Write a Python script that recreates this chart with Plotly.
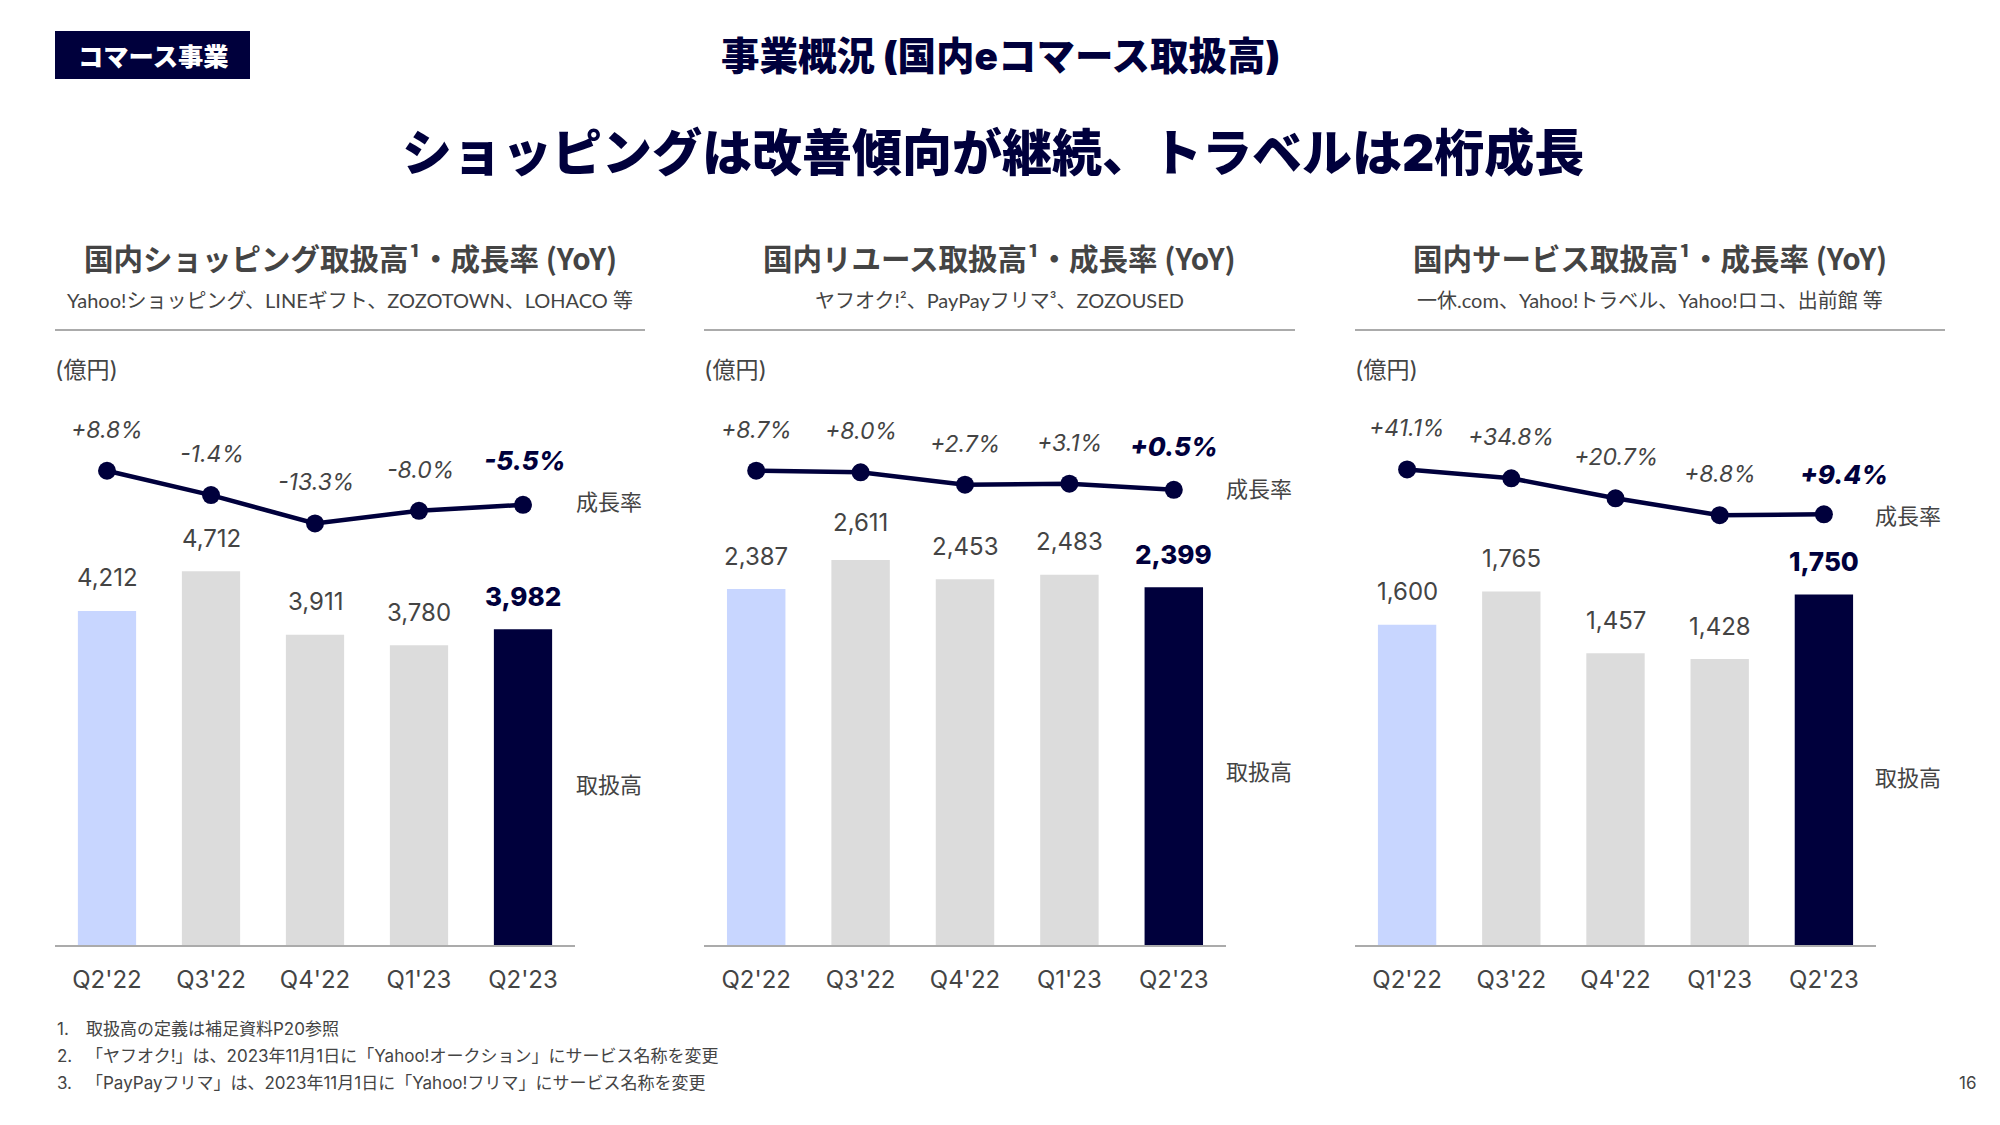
import plotly.graph_objects as go

# ---- data ----
quarters = ["Q2'22", "Q3'22", "Q4'22", "Q1'23", "Q2'23"]
shopping_gmv = [4212, 4712, 3911, 3780, 3982]
shopping_yoy = [8.8, -1.4, -13.3, -8.0, -5.5]
reuse_gmv = [2387, 2611, 2453, 2483, 2399]
reuse_yoy = [8.7, 8.0, 2.7, 3.1, 0.5]
service_gmv = [1600, 1765, 1457, 1428, 1750]
service_yoy = [41.1, 34.8, 20.7, 8.8, 9.4]

panel_titles = ["国内ショッピング取扱高¹・成長率 (YoY)",
                "国内リユース取扱高¹・成長率 (YoY)",
                "国内サービス取扱高¹・成長率 (YoY)"]
panel_subtitles = ["Yahoo!ショッピング、LINEギフト、ZOZOTOWN、LOHACO 等",
                   "ヤフオク!²、PayPayフリマ³、ZOZOUSED",
                   "一休.com、Yahoo!トラベル、Yahoo!ロコ、出前館 等"]
footnote_nums = ["1.", "2.", "3."]
footnotes = ["取扱高の定義は補足資料P20参照",
             "「ヤフオク!」は、2023年11月1日に「Yahoo!オークション」にサービス名称を変更",
             "「PayPayフリマ」は、2023年11月1日に「Yahoo!フリマ」にサービス名称を変更"]

# ---- styles / layout ----
W, H = 2000, 1125
NAVY = "#00003C"
TXT = "#444444"
BAR_COLORS = ["#C8D6FF", "#DCDCDC", "#DCDCDC", "#DCDCDC", NAVY]
FONT = "Inter, 'Noto Sans CJK JP', sans-serif"
SUB = "Lato, 'Noto Sans CJK JP', sans-serif"
JP = "'Noto Sans CJK JP', Inter, sans-serif"
BASE_Y, TOP_Y, LINE_BOTTOM_Y = 945, 420, 560


def px(x):
    return x / W


def py(y):
    return 1 - y / H


panels = [
    dict(gmv=shopping_gmv, yoy=shopping_yoy, left=55, right=575, rule_r=645, bar_max=6620,
         yoy_range=[-28.6, 30.06], side_x=608.5, side_y=(500, 783), yoy_dx=[0, 1, 1, 1, 1], last_dy=44),
    dict(gmv=reuse_gmv, yoy=reuse_yoy, left=704, right=1226, rule_r=1295, bar_max=3521,
         yoy_range=[-29.6, 30.4], side_x=1259, side_y=(487, 770), yoy_dx=[0, 0, 0, 0, 0], last_dy=43),
    dict(gmv=service_gmv, yoy=service_yoy, left=1355, right=1876, rule_r=1945, bar_max=2622,
         yoy_range=[-22.9, 76.0], side_x=1908, side_y=(514, 775.5), yoy_dx=[0, 0, 0, 0, 20], last_dy=39.5),
]

fig = go.Figure()
ann = []
shapes = []


def text(x, y, s, size, color=TXT, weight=400, anchor="center", family=JP):
    ann.append(dict(xref="paper", yref="paper", x=px(x), y=py(y), text=s, showarrow=False,
                    xanchor=anchor, yanchor="middle",
                    font=dict(size=size, color=color, family=family, weight=weight)))


for i, p in enumerate(panels):
    n = i * 2
    xa = f"x{i + 1}" if i else "x"
    ya = f"y{n + 1}" if n else "y"
    ya2 = f"y{n + 2}"
    fig.add_trace(go.Bar(x=quarters, y=p["gmv"], xaxis=xa, yaxis=ya, width=0.56,
                         marker=dict(color=BAR_COLORS, line=dict(width=0)),
                         hoverinfo="skip", showlegend=False))
    fig.add_trace(go.Scatter(x=quarters, y=p["yoy"], xaxis=xa, yaxis=ya2, mode="lines+markers",
                             line=dict(color=NAVY, width=4.5),
                             marker=dict(color=NAVY, size=18),
                             cliponaxis=False, hoverinfo="skip", showlegend=False))
    xkey = f"xaxis{i + 1}" if i else "xaxis"
    ykey = f"yaxis{n + 1}" if n else "yaxis"
    ykey2 = f"yaxis{n + 2}"
    fig.update_layout({
        xkey: dict(domain=[px(p["left"]), px(p["right"])], anchor=ya, type="category",
                   range=[-0.5, 4.5], showline=True, linecolor="#ABABAB", linewidth=2,
                   ticks="", showgrid=False, zeroline=False, ticklabelstandoff=12,
                   tickfont=dict(size=24, color=TXT, family=FONT), fixedrange=True),
        ykey: dict(domain=[py(BASE_Y), py(TOP_Y)], range=[0, p["bar_max"]], visible=False,
                   anchor=xa, fixedrange=True),
        ykey2: dict(domain=[py(LINE_BOTTOM_Y), py(TOP_Y)], range=p["yoy_range"], visible=False,
                    anchor=xa, fixedrange=True),
    })
    for j, q in enumerate(quarters):
        last = j == len(quarters) - 1
        ann.append(dict(xref=xa, yref=ya, x=q, y=p["gmv"][j], text=f"{p['gmv'][j]:,}",
                        showarrow=False, xanchor="center", yanchor="middle", yshift=33,
                        font=dict(size=26 if last else 24, color=NAVY if last else TXT, family=FONT,
                                  weight=800 if last else 400)))
        ann.append(dict(xref=xa, yref=ya2, x=q, y=p["yoy"][j], text=f"{p['yoy'][j]:+.1f}%",
                        showarrow=False, xanchor="center", yanchor="middle",
                        yshift=p["last_dy"] if last else 41, xshift=p["yoy_dx"][j],
                        font=dict(size=26 if last else 23, color=NAVY if last else TXT, family=FONT,
                                  style="italic", weight=800 if last else 400)))
    cx = (p["left"] + p["rule_r"]) / 2
    text(cx, 257, panel_titles[i], 29.5, TXT, 700, family=JP)
    text(cx, 299.5, panel_subtitles[i], 20, TXT, family=SUB)
    shapes.append(dict(type="line", xref="paper", yref="paper", x0=px(p["left"]), x1=px(p["rule_r"]),
                       y0=py(330), y1=py(330), line=dict(color="#ABABAB", width=2)))
    text(p["left"] - 2, 370, "(億円)", 23, TXT, anchor="left", family=FONT)
    text(p["side_x"], p["side_y"][0], "成長率", 22)
    text(p["side_x"], p["side_y"][1], "取扱高", 22)

shapes.append(dict(type="rect", xref="paper", yref="paper", x0=px(55), x1=px(250), y0=py(79), y1=py(31),
                   fillcolor=NAVY, line=dict(width=0), layer="below"))
text(153, 55, "コマース事業", 25.3, "#FFFFFF", 900)
text(1000, 56, "事業概況 (国内eコマース取扱高)", 38.5, NAVY, 900, family=FONT)
text(993, 153, "ショッピングは改善傾向が継続、トラベルは2桁成長", 50, NAVY, 900, family=FONT)

for k, (num, note) in enumerate(zip(footnote_nums, footnotes)):
    y = 1029 + k * 27
    text(55, y, num, 17, TXT, anchor="left", family=FONT)
    text(84, y, note, 17, TXT, anchor="left", family=FONT)
text(1967, 1083, "16", 17, TXT, family=FONT)

fig.update_layout(width=W, height=H, margin=dict(l=0, r=0, t=0, b=0), autosize=False,
                  paper_bgcolor="white", plot_bgcolor="white", showlegend=False,
                  annotations=ann, shapes=shapes, font=dict(family=FONT))

fig.write_html("out.html", config={"displayModeBar": False},
               post_script="document.body.style.margin='0';")
